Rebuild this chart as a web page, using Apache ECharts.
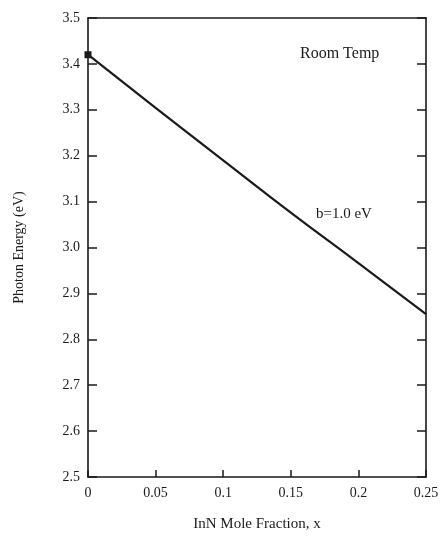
<!DOCTYPE html>
<html>
<head>
<meta charset="utf-8">
<script src="https://cdn.jsdelivr.net/npm/echarts@6/dist/echarts.min.js"></script>
<style>
  html, body { margin: 0; padding: 0; background: #fff; }
  #chart { width: 445px; height: 538px; }
</style>
</head>
<body>
<div id="chart"></div>
<script>
// InGaN band gap versus InN mole fraction at room temperature (bowing b = 1.0 eV)
const moleFraction = [0, 0.05, 0.10, 0.15, 0.20, 0.25];
const photonEnergy = [3.42, 3.304, 3.19, 3.076, 2.966, 2.855];
const xTickLabels = ['0', '0.05', '0.1', '0.15', '0.2', '0.25'];
const yTickLabels = ['2.5', '2.6', '2.7', '2.8', '2.9', '3.0', '3.1', '3.2', '3.3', '3.4', '3.5'];

const ink = '#1a1a1a';
const font = '"Liberation Serif", "DejaVu Serif", serif';

const chart = echarts.init(document.getElementById('chart'));

const curve = moleFraction.map((x, i) => [x, photonEnergy[i]]);

const frameLine = { show: true, onZero: false, lineStyle: { color: ink, width: 1.6 } };
const yTick = { show: true, inside: true, length: 9, lineStyle: { color: ink, width: 1.5 } };
const xTick = { show: true, inside: true, length: 7, lineStyle: { color: ink, width: 1.5 } };

chart.setOption({
  backgroundColor: '#ffffff',
  animation: false,
  grid: { left: 88, right: 19, top: 18, bottom: 61 },
  xAxis: [
    {
      type: 'value', min: 0, max: 0.25, interval: 0.05, position: 'bottom',
      axisLine: frameLine, axisTick: xTick, splitLine: { show: false },
      name: 'InN Mole Fraction, x', nameLocation: 'middle', nameGap: 40,
      nameTextStyle: { fontFamily: font, fontSize: 15, color: ink },
      axisLabel: {
        color: ink, fontFamily: font, fontSize: 14, margin: 9,
        formatter: (v) => xTickLabels[Math.round(v / 0.05)]
      }
    },
    {
      type: 'value', min: 0, max: 0.25, interval: 0.05, position: 'top',
      axisLine: frameLine, axisTick: { show: false }, splitLine: { show: false },
      axisLabel: { show: false }
    }
  ],
  yAxis: [
    {
      type: 'value', min: 2.5, max: 3.5, interval: 0.1, position: 'left',
      axisLine: frameLine, axisTick: yTick, splitLine: { show: false },
      name: 'Photon Energy (eV)', nameLocation: 'middle', nameGap: 62,
      nameTextStyle: { fontFamily: font, fontSize: 14, color: ink },
      axisLabel: {
        color: ink, fontFamily: font, fontSize: 14, margin: 8,
        formatter: (v) => yTickLabels[Math.round((v - 2.5) / 0.1)]
      }
    },
    {
      type: 'value', min: 2.5, max: 3.5, interval: 0.1, position: 'right',
      axisLine: frameLine, axisTick: yTick, splitLine: { show: false },
      axisLabel: { show: false }
    }
  ],
  series: [
    {
      type: 'line',
      data: curve,
      xAxisIndex: 0, yAxisIndex: 0,
      smooth: true,
      symbol: 'none',
      lineStyle: { color: ink, width: 2.2 },
      markPoint: {
        symbol: 'rect', symbolSize: 7,
        itemStyle: { color: ink },
        label: { show: false },
        data: [{ coord: curve[0] }]
      }
    }
  ],
  graphic: [
    {
      type: 'text', left: 300, top: 46,
      style: { text: 'Room Temp', font: '16px ' + font, fill: ink }
    },
    {
      type: 'text', left: 316, top: 207,
      style: { text: 'b=1.0 eV', font: '15px ' + font, fill: ink }
    }
  ]
});
</script>
</body>
</html>
